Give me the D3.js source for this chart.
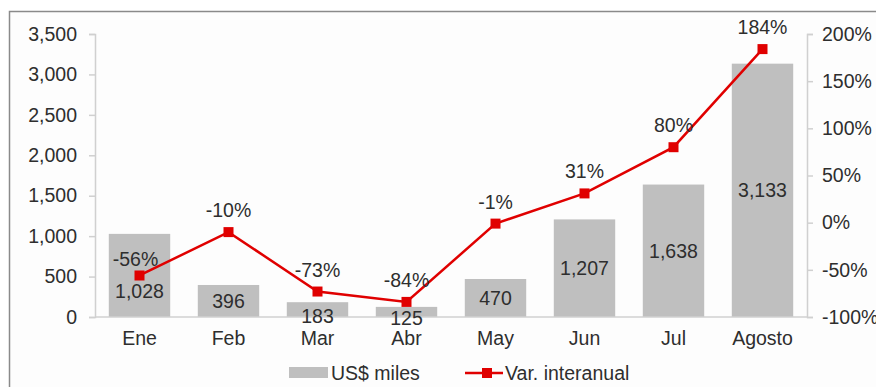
<!DOCTYPE html>
<html>
<head>
<meta charset="utf-8">
<script src="https://cdn.jsdelivr.net/npm/d3@7"></script>
<style>
  html, body { margin: 0; padding: 0; background: #ffffff; }
  svg { display: block; font-family: "Liberation Sans", Arial, sans-serif; }
</style>
</head>
<body>
<svg id="chart" width="876" height="387"></svg>
<script>
// Monthly figures
const months = ["Ene", "Feb", "Mar", "Abr", "May", "Jun", "Jul", "Agosto"];
const amounts = [1028, 396, 183, 125, 470, 1207, 1638, 3133];      // US$ miles
const yoyChange = [-56, -10, -73, -84, -1, 31, 80, 184];           // Var. interanual, %
const leftTicks = [0, 500, 1000, 1500, 2000, 2500, 3000, 3500];
const rightTicks = [-100, -50, 0, 50, 100, 150, 200];
const seriesNames = ["US$ miles", "Var. interanual"];

const svg = d3.select("#chart");
const W = 876, H = 387;
const plot = { left: 95, right: 807, top: 34, bottom: 317 };
const textColor = "#2e2e2e";
const axisColor = "#d0d0d0";
const barColor = "#bfbfbf";
const lineColor = "#e00000";
const fontSize = 19.5;

// frame around the chart area
svg.append("rect").attr("width", W).attr("height", H).attr("fill", "#ffffff");
svg.append("rect")
  .attr("x", 9.5).attr("y", 11.5)
  .attr("width", W + 20).attr("height", H + 20)
  .attr("fill", "#fdfdfd").attr("stroke", "#8a8a8a").attr("stroke-width", 1.5);

const x = d3.scaleBand().domain(months).range([plot.left, plot.right]).paddingInner(0.31).paddingOuter(0.155);
const yL = d3.scaleLinear().domain([0, 3500]).range([plot.bottom, plot.top]);
const yR = d3.scaleLinear().domain([-100, 200]).range([plot.bottom, plot.top]);

const fmt = d3.format(",");

// left axis
const leftAxis = svg.append("g")
  .attr("transform", `translate(${plot.left},0)`)
  .call(d3.axisLeft(yL).tickValues(leftTicks).tickFormat(fmt).tickSize(6).tickPadding(12));
// right axis
const rightAxis = svg.append("g")
  .attr("transform", `translate(${plot.right},0)`)
  .call(d3.axisRight(yR).tickValues(rightTicks).tickFormat(d => d + "%").tickSize(6).tickPadding(9));

[leftAxis, rightAxis].forEach(g => {
  g.select(".domain").attr("stroke", axisColor).attr("stroke-width", 1.5);
  g.selectAll(".tick line").attr("stroke", axisColor).attr("stroke-width", 1.5);
  g.selectAll(".tick text").attr("fill", textColor).attr("font-size", fontSize)
    .attr("font-family", "Liberation Sans, Arial, sans-serif");
});

// bars
svg.append("g").selectAll("rect")
  .data(months)
  .join("rect")
  .attr("x", d => x(d))
  .attr("width", x.bandwidth())
  .attr("y", (d, i) => yL(amounts[i]))
  .attr("height", (d, i) => yL(0) - yL(amounts[i]))
  .attr("fill", barColor);

// category baseline
svg.append("line")
  .attr("x1", plot.left).attr("x2", plot.right)
  .attr("y1", yL(0)).attr("y2", yL(0))
  .attr("stroke", axisColor).attr("stroke-width", 1.5);

// category axis labels
const bottomAxis = svg.append("g")
  .attr("transform", `translate(0,${plot.bottom})`)
  .call(d3.axisBottom(x).tickSize(0).tickPadding(14));
bottomAxis.select(".domain").remove();
bottomAxis.selectAll(".tick text").attr("fill", textColor).attr("font-size", fontSize)
  .attr("font-family", "Liberation Sans, Arial, sans-serif");

// bar value labels, centred in the bar; a few are moved clear of the line
const barLabelShift = { Ene: 16, Mar: 6, Abr: 6 };
svg.append("g").selectAll("text")
  .data(months)
  .join("text")
  .attr("x", d => x(d) + x.bandwidth() / 2)
  .attr("y", (d, i) => (yL(amounts[i]) + yL(0)) / 2 + (barLabelShift[d] || 0))
  .attr("dy", "0.36em")
  .attr("text-anchor", "middle")
  .attr("font-size", fontSize)
  .attr("fill", textColor)
  .text((d, i) => fmt(amounts[i]));

// year-on-year line
const cx = d => x(d) + x.bandwidth() / 2;
const line = d3.line().x(d => cx(d.m)).y(d => yR(d.v));
const pts = months.map((m, i) => ({ m, v: yoyChange[i] }));
svg.append("path")
  .datum(pts)
  .attr("d", line)
  .attr("fill", "none")
  .attr("stroke", lineColor)
  .attr("stroke-width", 2.5);
svg.append("g").selectAll("rect")
  .data(pts)
  .join("rect")
  .attr("x", d => cx(d.m) - 5)
  .attr("y", d => yR(d.v) - 5)
  .attr("width", 10).attr("height", 10)
  .attr("fill", lineColor);

// percentage labels above the markers
const pctLabelShift = { Ene: { dx: -4, dy: 5 } };
svg.append("g").selectAll("text")
  .data(pts)
  .join("text")
  .attr("x", d => cx(d.m) + ((pctLabelShift[d.m] || {}).dx || 0))
  .attr("y", d => yR(d.v) - 22 + ((pctLabelShift[d.m] || {}).dy || 0))
  .attr("dy", "0.36em")
  .attr("text-anchor", "middle")
  .attr("font-size", fontSize)
  .attr("fill", textColor)
  .text(d => d.v + "%");

// legend
const lg = svg.append("g");
lg.append("rect").attr("x", 289).attr("y", 367).attr("width", 39).attr("height", 11).attr("fill", barColor);
lg.append("text").attr("x", 331).attr("y", 373).attr("dy", "0.36em")
  .attr("font-size", fontSize).attr("fill", textColor).text(seriesNames[0]);
lg.append("line").attr("x1", 465).attr("x2", 503).attr("y1", 373).attr("y2", 373)
  .attr("stroke", lineColor).attr("stroke-width", 2.5);
lg.append("rect").attr("x", 482).attr("y", 368).attr("width", 10).attr("height", 10).attr("fill", lineColor);
lg.append("text").attr("x", 505).attr("y", 373).attr("dy", "0.36em")
  .attr("font-size", fontSize).attr("fill", textColor).text(seriesNames[1]);
</script>
</body>
</html>
